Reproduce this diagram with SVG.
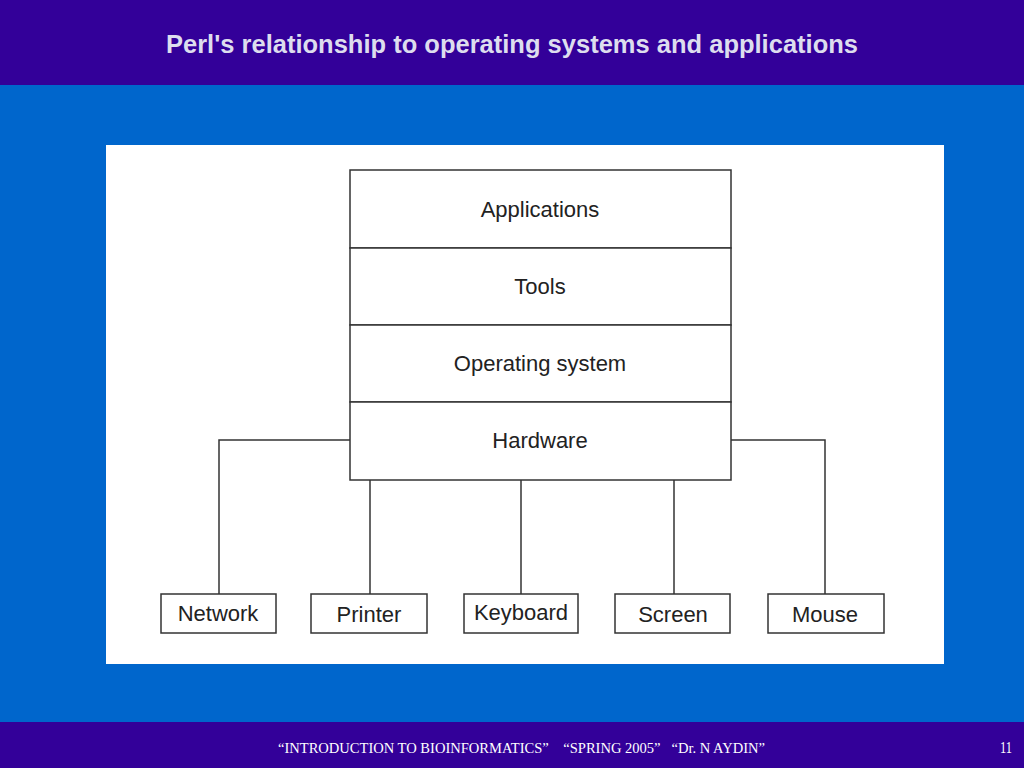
<svg xmlns="http://www.w3.org/2000/svg" width="1024" height="768" viewBox="0 0 1024 768">
<style>
.box{fill:#fff;stroke:#333;stroke-width:1.5}
.lbl{font-family:"Liberation Sans",Arial,sans-serif;font-size:22px;fill:#222;text-anchor:middle}
.conn{fill:none;stroke:#333;stroke-width:1.5}
</style>
<rect x="0" y="0" width="1024" height="768" fill="#0066CC"/>
<rect x="0" y="0" width="1024" height="85" fill="#330099"/>
<text x="166" y="53" font-family="Liberation Sans,Arial,sans-serif" font-size="26" font-weight="bold" fill="#DDDDEE" textLength="692" lengthAdjust="spacingAndGlyphs">Perl's relationship to operating systems and applications</text>
<rect x="0" y="722" width="1024" height="46" fill="#330099"/>
<text x="278" y="753" font-family="Liberation Serif,Times New Roman,serif" font-size="15.5" fill="#fff" textLength="487" lengthAdjust="spacingAndGlyphs" xml:space="preserve">“INTRODUCTION TO BIOINFORMATICS”    “SPRING 2005”   “Dr. N AYDIN”</text>
<text x="1006" y="753" font-family="Liberation Serif,Times New Roman,serif" font-size="17" fill="#fff" text-anchor="middle" textLength="12" lengthAdjust="spacingAndGlyphs">11</text>
<rect x="106" y="145" width="838" height="519" fill="#fff"/>
<g id="connectors">
<polyline class="conn" points="350,440 219,440 219,594"/>
<polyline class="conn" points="731,440 825,440 825,594"/>
<line class="conn" x1="370" y1="480" x2="370" y2="594"/>
<line class="conn" x1="521" y1="480" x2="521" y2="594"/>
<line class="conn" x1="674" y1="480" x2="674" y2="594"/>
</g>
<g id="applications"><rect class="box" x="350" y="170" width="381" height="78"/><text class="lbl" x="540" y="217">Applications</text></g>
<g id="tools"><rect class="box" x="350" y="248" width="381" height="77"/><text class="lbl" x="540" y="294">Tools</text></g>
<g id="os"><rect class="box" x="350" y="325" width="381" height="77"/><text class="lbl" x="540" y="371">Operating system</text></g>
<g id="hardware"><rect class="box" x="350" y="402" width="381" height="78"/><text class="lbl" x="540" y="448">Hardware</text></g>
<g id="network"><rect class="box" x="161" y="594" width="115" height="39"/><text class="lbl" x="218" y="621">Network</text></g>
<g id="printer"><rect class="box" x="311" y="594" width="116" height="39"/><text class="lbl" x="369" y="622">Printer</text></g>
<g id="keyboard"><rect class="box" x="464" y="594" width="114" height="39"/><text class="lbl" x="521" y="620">Keyboard</text></g>
<g id="screen"><rect class="box" x="615" y="594" width="115" height="39"/><text class="lbl" x="673" y="622">Screen</text></g>
<g id="mouse"><rect class="box" x="768" y="594" width="116" height="39"/><text class="lbl" x="825" y="622">Mouse</text></g>
</svg>
